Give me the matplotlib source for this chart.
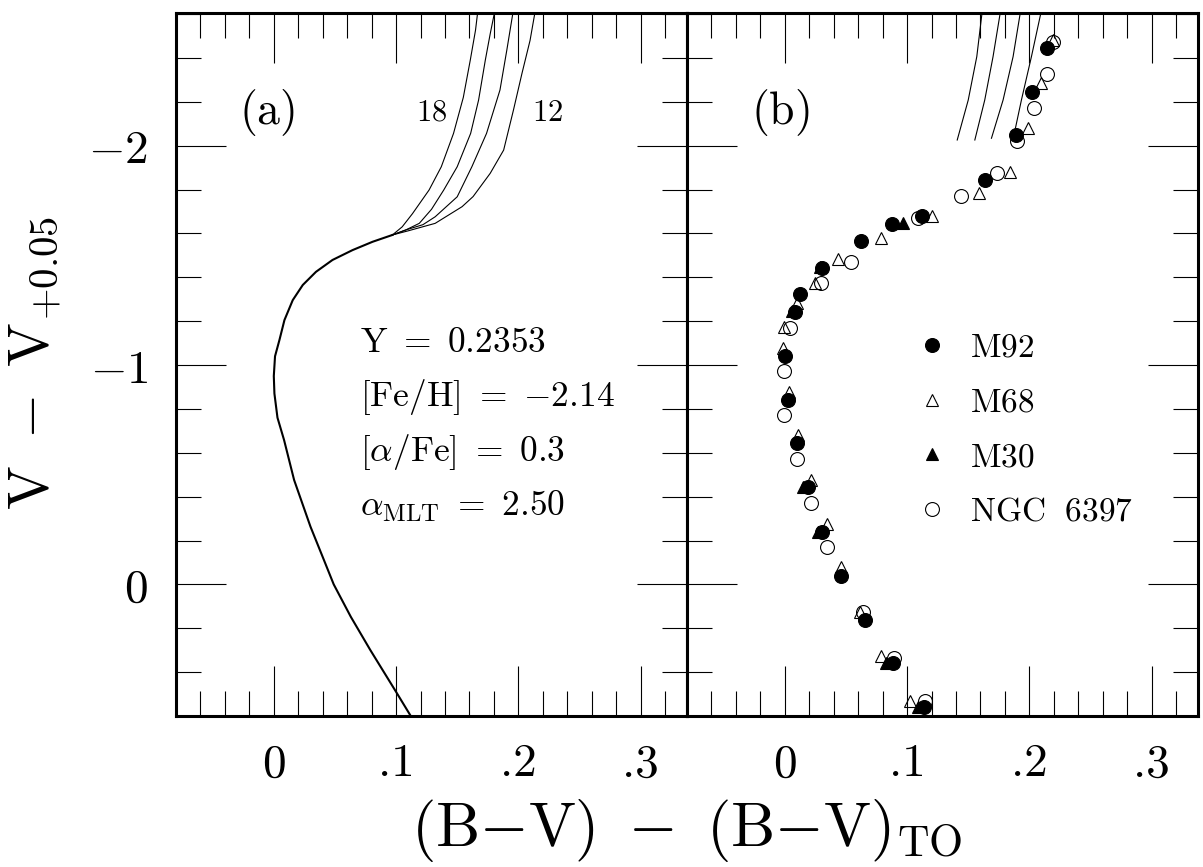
import matplotlib
matplotlib.use("Agg")
import matplotlib.pyplot as plt
from matplotlib.ticker import MultipleLocator, FixedLocator

plt.rcParams['mathtext.fontset'] = 'cm'

# lower main sequence + turnoff, common to all isochrones (panel a)
ms_x = [0.112, 0.100, 0.079, 0.063, 0.049, 0.041, 0.030, 0.0166, 0.0084, 0.003,
        0.0005, 0.0, 0.001, 0.0046, 0.0087, 0.0155, 0.0237, 0.0345, 0.048,
        0.0644, 0.0808, 0.097]
ms_y = [0.60, 0.49, 0.30, 0.148, 0.0, -0.111, -0.263, -0.476, -0.658, -0.76,
        -0.87, -0.95, -1.04, -1.114, -1.205, -1.296, -1.365, -1.425, -1.479,
        -1.524, -1.562, -1.593]

# subgiant / giant branch of each isochrone (ages in Gyr), panel a
iso18_x = [0.097, 0.105, 0.1134, 0.127, 0.137, 0.147, 0.155, 0.1607, 0.165, 0.167]
iso18_y = [-1.593, -1.63, -1.69, -1.798, -1.904, -2.056, -2.22, -2.39, -2.527, -2.62]
iso16_x = [0.097, 0.108, 0.119, 0.129, 0.139, 0.150, 0.161, 0.1675, 0.173, 0.177, 0.181]
iso16_y = [-1.593, -1.616, -1.646, -1.71, -1.798, -1.904, -2.056, -2.208, -2.39, -2.51, -2.62]
iso14_x = [0.097, 0.108, 0.122, 0.132, 0.150, 0.162, 0.174, 0.185, 0.1906, 0.196]
iso14_y = [-1.593, -1.616, -1.64, -1.676, -1.767, -1.904, -2.056, -2.254, -2.436, -2.62]
iso12_x = [0.097, 0.110, 0.132, 0.154, 0.163, 0.177, 0.188, 0.196, 0.203, 0.2096, 0.214]
iso12_y = [-1.593, -1.612, -1.646, -1.722, -1.768, -1.874, -1.98, -2.162, -2.33, -2.48, -2.62]

# upper giant branch of the isochrones as shown in panel b
gb18_x = [0.141, 0.150, 0.157, 0.1616]
gb18_y = [-2.026, -2.208, -2.406, -2.62]
gb16_x = [0.1554, 0.1635, 0.1703, 0.1766]
gb16_y = [-2.026, -2.208, -2.406, -2.62]
gb14_x = [0.169, 0.1785, 0.1867, 0.193]
gb14_y = [-2.034, -2.208, -2.406, -2.62]
gb12_x = [0.188, 0.1935, 0.2017, 0.210]
gb12_y = [-2.064, -2.208, -2.406, -2.62]

# cluster fiducial points (panel b)
m92_x = [0.2148, 0.2025, 0.1894, 0.1635, 0.1123, 0.0877, 0.0621, 0.0305, 0.0123, 0.0082,
         0.0, 0.0022, 0.0096, 0.0186, 0.030, 0.0463, 0.0654, 0.0886, 0.1139]
m92_y = [-2.447, -2.246, -2.049, -1.844, -1.681, -1.643, -1.567, -1.444, -1.324, -1.243,
         -1.041, -0.840, -0.643, -0.442, -0.240, -0.039, 0.163, 0.360, 0.561]
m68_x = [0.2194, 0.2093, 0.199, 0.184, 0.1586, 0.120, 0.079, 0.0436, 0.0245, 0.0096,
         -0.0006, -0.0019, 0.0035, 0.0109, 0.0218, 0.0341, 0.0458, 0.0613, 0.079, 0.1022]
m68_y = [-2.482, -2.284, -2.082, -1.879, -1.783, -1.681, -1.581, -1.482, -1.373, -1.281,
         -1.175, -1.076, -0.878, -0.681, -0.476, -0.274, -0.078, 0.125, 0.327, 0.531]
m30_x = [0.0967, 0.0286, 0.0055, 0.015, 0.0272, 0.0831, 0.109]
m30_y = [-1.649, -1.448, -1.248, -0.445, -0.240, 0.360, 0.561]
n6397_x = [0.2194, 0.2148, 0.2036, 0.190, 0.1736, 0.1439, 0.109, 0.054, 0.0294, 0.0041,
           -0.0008, -0.0008, 0.0096, 0.021, 0.0341, 0.064, 0.0894, 0.1145]
n6397_y = [-2.474, -2.327, -2.173, -2.023, -1.874, -1.772, -1.669, -1.471, -1.373, -1.170,
           -0.973, -0.772, -0.570, -0.369, -0.171, 0.125, 0.337, 0.531]

xtick_vals = [0, 0.1, 0.2, 0.3]
xtick_labels = ['0', '.1', '.2', '.3']
ytick_vals = [-2, -1, 0]
ytick_labels = [r'$-2$', r'$-1$', r'$0$']

param_lines = [r'$\mathrm{Y}\ =\ 0.2353$',
               r'$[\mathrm{Fe/H}]\ =\ {-2.14}$',
               r'$[\alpha/\mathrm{Fe}]\ =\ 0.3$',
               r'$\alpha_{\mathrm{MLT}}\ =\ 2.50$']

fig = plt.figure(figsize=(12.03, 8.67), dpi=100)
ax_a = fig.add_axes([0.1463, 0.1742, 0.4248, 0.8108])
ax_b = fig.add_axes([0.5711, 0.1742, 0.4248, 0.8108])

for ax in (ax_a, ax_b):
    ax.set_xlim(-0.08, 0.338)
    ax.set_ylim(0.6, -2.605)
    ax.xaxis.set_major_locator(FixedLocator(xtick_vals))
    ax.xaxis.set_minor_locator(MultipleLocator(0.02))
    ax.yaxis.set_major_locator(FixedLocator(ytick_vals))
    ax.yaxis.set_minor_locator(MultipleLocator(0.2))
    ax.tick_params(which='both', direction='in', top=True, right=True, width=0.8)
    ax.tick_params(which='major', length=36)
    ax.tick_params(which='minor', length=18)
    ax.tick_params(axis='x', which='major', pad=20, labelsize=34)
    ax.tick_params(axis='y', which='major', pad=20, labelsize=34)
    ax.set_xticklabels(xtick_labels, fontfamily='cmr10')
    for s in ax.spines.values():
        s.set_linewidth(2.2)

ax_a.set_yticklabels(ytick_labels)
ax_b.set_yticklabels([])

# panel (a)
ax_a.plot(ms_x, ms_y, color='black', lw=1.5)
for xs, ys in [(iso18_x, iso18_y), (iso16_x, iso16_y), (iso14_x, iso14_y), (iso12_x, iso12_y)]:
    ax_a.plot(xs, ys, color='black', lw=0.8)

ax_a.text(0.178, 0.858, r'$\mathrm{(a)}$', transform=ax_a.transAxes, fontsize=33,
          ha='center', va='center')
ax_a.text(0.500, 0.859, r'$18$', transform=ax_a.transAxes, fontsize=22, ha='center', va='center')
ax_a.text(0.727, 0.859, r'$12$', transform=ax_a.transAxes, fontsize=22, ha='center', va='center')
for i, line in enumerate(param_lines):
    ax_a.text(0.360, 0.532 - 0.078 * i, line, transform=ax_a.transAxes, fontsize=25.5,
              ha='left', va='center')

# panel (b)
for xs, ys in [(gb18_x, gb18_y), (gb16_x, gb16_y), (gb14_x, gb14_y), (gb12_x, gb12_y)]:
    ax_b.plot(xs, ys, color='black', lw=0.8)

ax_b.plot(n6397_x, n6397_y, 'o', ms=10, mfc='none', mec='black', mew=0.8, label=r'$\mathrm{NGC\ \ 6397}$')
ax_b.plot(m68_x, m68_y, '^', ms=9, mfc='none', mec='black', mew=0.8, label=r'$\mathrm{M68}$')
ax_b.plot(m30_x, m30_y, '^', ms=9, mfc='black', mec='black', mew=0.8, label=r'$\mathrm{M30}$')
ax_b.plot(m92_x, m92_y, 'o', ms=10, mfc='black', mec='black', mew=0.8, label=r'$\mathrm{M92}$')

h, l = ax_b.get_legend_handles_labels()
order = [3, 1, 2, 0]
ax_b.legend([h[i] for i in order], [l[i] for i in order], loc='upper left',
            bbox_to_anchor=(0.4476, 0.548), frameon=False, fontsize=24, numpoints=1,
            handlelength=1.0, handletextpad=0.62, labelspacing=0.65,
            borderpad=0, borderaxespad=0)

ax_b.text(0.182, 0.858, r'$\mathrm{(b)}$', transform=ax_b.transAxes, fontsize=33,
          ha='center', va='center')

fig.text(0.571, 1 - 830 / 867, r'$(\mathrm{B}{-}\mathrm{V})\ -\ (\mathrm{B}{-}\mathrm{V})_{\mathrm{TO}}$',
         fontsize=45, ha='center', va='center')
fig.text(35 / 1203, 1 - 363 / 867, r'$\mathrm{V}\ -\ \mathrm{V}_{+0.05}$', fontsize=42,
         rotation=90, ha='center', va='center')

fig.savefig('out.png', dpi=100)
